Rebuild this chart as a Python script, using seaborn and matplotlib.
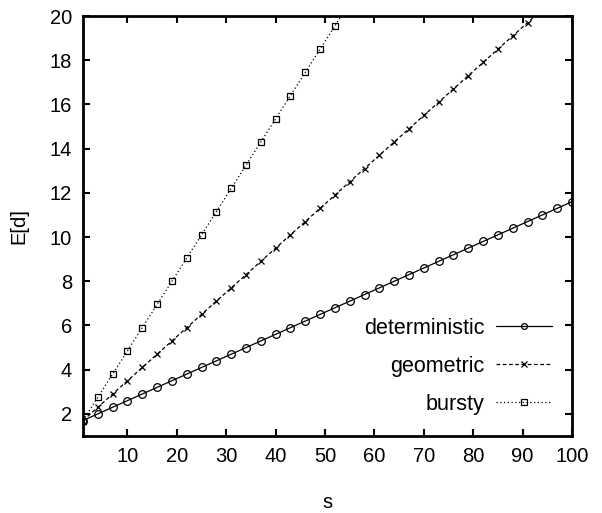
import matplotlib
matplotlib.use("Agg")
import matplotlib.pyplot as plt
import seaborn as sns
import pandas as pd

s_det = [1, 4, 7, 10, 13, 16, 19, 22, 25, 28, 31, 34, 37, 40, 43, 46, 49, 52, 55, 58,
         61, 64, 67, 70, 73, 76, 79, 82, 85, 88, 91, 94, 97, 100]
deterministic = [1.7, 2.0, 2.3, 2.6, 2.9, 3.2, 3.5, 3.8, 4.1, 4.4, 4.7, 5.0, 5.3, 5.6, 5.9,
                 6.2, 6.5, 6.8, 7.1, 7.4, 7.7, 8.0, 8.3, 8.6, 8.9, 9.2, 9.5, 9.8, 10.1,
                 10.4, 10.7, 11.0, 11.3, 11.6]
s_geo = [1, 4, 7, 10, 13, 16, 19, 22, 25, 28, 31, 34, 37, 40, 43, 46, 49, 52, 55, 58,
         61, 64, 67, 70, 73, 76, 79, 82, 85, 88, 91, 94]
geometric = [1.7, 2.3, 2.9, 3.5, 4.1, 4.7, 5.3, 5.9, 6.5, 7.1, 7.7, 8.3, 8.9, 9.5, 10.1,
             10.7, 11.3, 11.9, 12.5, 13.1, 13.7, 14.3, 14.9, 15.5, 16.1, 16.7, 17.3,
             17.9, 18.5, 19.1, 19.7, 20.3]
s_bur = [1, 4, 7, 10, 13, 16, 19, 22, 25, 28, 31, 34, 37, 40, 43, 46, 49, 52, 55]
bursty = [1.7, 2.75, 3.8, 4.85, 5.9, 6.95, 8.0, 9.05, 10.1, 11.15, 12.2, 13.25, 14.3,
          15.35, 16.4, 17.45, 18.5, 19.55, 20.6]

x_ticks = [10, 20, 30, 40, 50, 60, 70, 80, 90, 100]
y_ticks = [2, 4, 6, 8, 10, 12, 14, 16, 18, 20]

sns.set_theme(style="ticks")
plt.rcParams['font.family'] = ['Liberation Sans', 'DejaVu Sans']
plt.rcParams['text.color'] = 'black'
plt.rcParams['axes.labelcolor'] = 'black'

fig = plt.figure(figsize=(6.02, 5.13), dpi=100)
ax = fig.add_axes([83/602, 1-436/513, (572-83)/602, (436-16)/513])

series = [
    ("deterministic", s_det, deterministic, "-", "o", 5.5),
    ("geometric", s_geo, geometric, (0, (3, 2)), "x", 5),
    ("bursty", s_bur, bursty, (0, (1, 2)), "s", 5),
]
for name, xs, ys, ls, mk, ms in series:
    df = pd.DataFrame({"s": xs, "E[d]": ys})
    sns.lineplot(data=df, x="s", y="E[d]", ax=ax, color="black", linewidth=0.9,
                 linestyle=ls, marker=mk, markersize=ms, markerfacecolor="none",
                 markeredgecolor="black", markeredgewidth=0.9, label=name, sort=False)

ax.set_xlim(1, 100)
ax.set_ylim(1, 20)
ax.set_xticks(x_ticks)
ax.set_yticks(y_ticks)
ax.tick_params(direction="in", length=5, width=1.5, top=True, right=True,
               labelsize=14.5, pad=8, colors="black")
for sp in ax.spines.values():
    sp.set_linewidth(2)
    sp.set_color("black")
ax.set_xlabel("s", fontsize=14.5, labelpad=19)
ax.set_ylabel("E[d]", fontsize=14.5, labelpad=15)

leg = ax.legend(loc="lower right", frameon=False, markerfirst=False, fontsize=15.5,
                handlelength=2.6, labelspacing=0.8, bbox_to_anchor=(0.959, 0.05),
                borderaxespad=0, borderpad=0, handletextpad=0.55, markerscale=0.75)
for t in leg.get_texts():
    t.set_ha("right")
leg._legend_box.align = "right"

fig.savefig("out.png", dpi=100)
